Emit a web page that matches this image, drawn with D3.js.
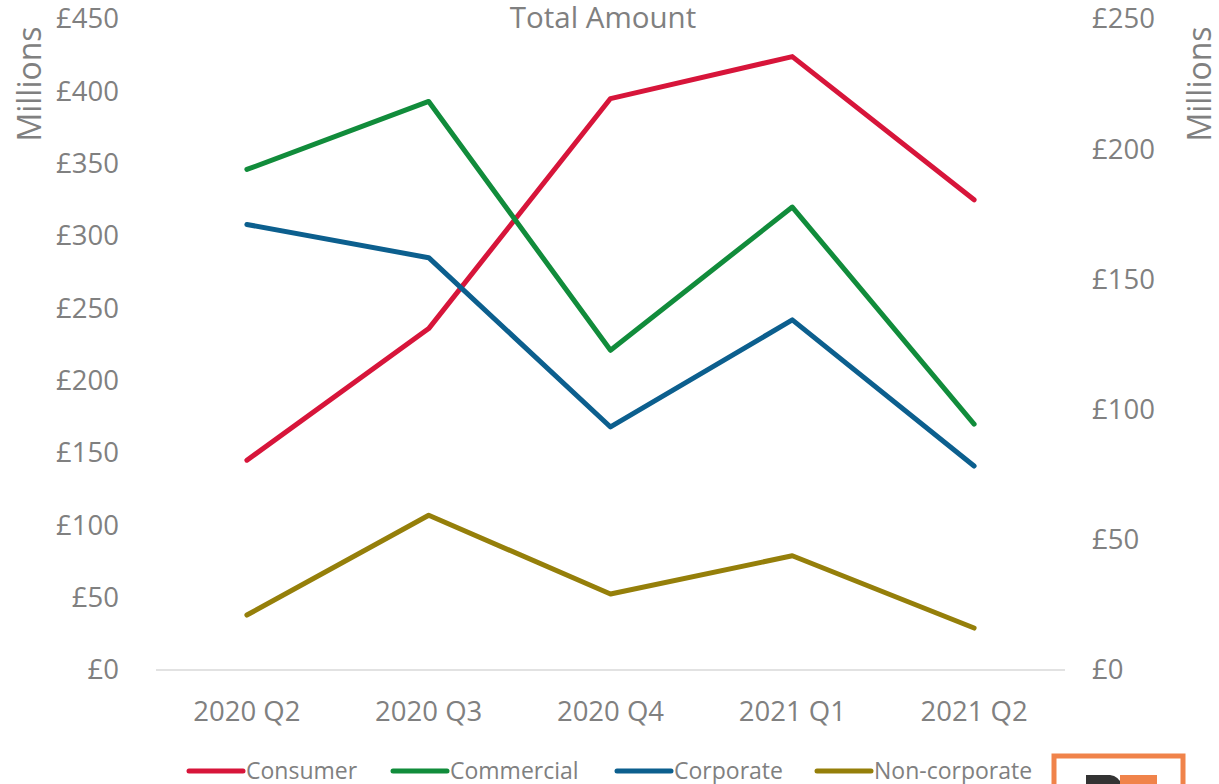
<!DOCTYPE html>
<meta charset="utf-8">
<title>Total Amount</title>
<style>
  body { margin: 0; background: #fff; }
  svg text { font-family: 'Open Sans', 'Noto Sans', sans-serif; fill: #808080; }
</style>
<body>
<div id="chart"></div>
<script src="https://d3js.org/d3.v7.min.js"></script>
<script>
// quarters on the x axis
const quarters = ["2020 Q2", "2020 Q3", "2020 Q4", "2021 Q1", "2021 Q2"];

// values in £ millions
const consumer     = [145, 236, 395, 424, 325];
const commercial   = [346, 393, 221, 320, 170];
const corporate    = [308, 285, 168, 242, 141];
const noncorporate = [38, 107, 52.5, 79, 29];

const seriesNames  = ["Consumer", "Commercial", "Corporate", "Non-corporate"];
const seriesColors = ["#d7153a", "#118c3b", "#0c5f8e", "#957f0a"];

const leftTicks  = [0, 50, 100, 150, 200, 250, 300, 350, 400, 450];
const rightTicks = [0, 50, 100, 150, 200, 250];

const W = 1219, H = 784;
const plot = {left: 156, right: 1065, top: 19, bottom: 670};

const svg = d3.select("#chart").append("svg")
  .attr("width", W).attr("height", H);

const x = d3.scaleBand().domain(quarters).range([plot.left, plot.right]);
const y = d3.scaleLinear().domain([0, 450]).range([plot.bottom, plot.top]);
const y2 = d3.scaleLinear().domain([0, 250]).range([plot.bottom, plot.top]);

// bottom axis line
svg.append("line")
  .attr("x1", plot.left).attr("x2", plot.right)
  .attr("y1", y(0)).attr("y2", y(0))
  .attr("stroke", "#d9d9d9").attr("stroke-width", 1.3);

// left axis
const gl = svg.append("g")
  .attr("transform", "translate(119,0)")
  .call(d3.axisLeft(y).tickValues(leftTicks).tickSize(0).tickPadding(0)
        .tickFormat(d => "£" + d));
gl.select(".domain").remove();
gl.attr("font-family", null).attr("font-size", null);
gl.selectAll("text").style("font-size", "27.5px");

// right axis
const gr = svg.append("g")
  .attr("transform", "translate(1092,0)")
  .call(d3.axisRight(y2).tickValues(rightTicks).tickSize(0).tickPadding(0)
        .tickFormat(d => "£" + d));
gr.select(".domain").remove();
gr.attr("font-family", null).attr("font-size", null);
gr.selectAll("text").style("font-size", "27.5px");

// x axis labels
const gx = svg.append("g")
  .attr("transform", "translate(0,701)")
  .call(d3.axisBottom(x).tickSize(0).tickPadding(0));
gx.select(".domain").remove();
gx.attr("font-family", null).attr("font-size", null);
gx.selectAll("text").style("font-size", "27.5px").attr("dy", "0.71em");

// axis titles
svg.append("text")
  .attr("transform", "translate(41,84) rotate(-90)")
  .attr("text-anchor", "middle")
  .style("font-size", "32px")
  .text("Millions");
svg.append("text")
  .attr("transform", "translate(1211,84) rotate(-90)")
  .attr("text-anchor", "middle")
  .style("font-size", "32px")
  .text("Millions");

// title
svg.append("text")
  .attr("x", 603).attr("y", 28)
  .attr("text-anchor", "middle")
  .style("font-size", "29.5px")
  .text("Total Amount");

// lines
const allSeries = [consumer, commercial, corporate, noncorporate];
const line = d3.line()
  .x((d, i) => x(quarters[i]) + x.bandwidth() / 2)
  .y(d => y(d));

allSeries.forEach((vals, k) => {
  svg.append("path")
    .datum(vals)
    .attr("d", line)
    .attr("fill", "none")
    .attr("stroke", seriesColors[k])
    .attr("stroke-width", 5)
    .attr("stroke-linecap", "round")
    .attr("stroke-linejoin", "round");
});

// legend
svg.append("clipPath").attr("id", "legclip")
  .append("rect").attr("x", 0).attr("y", 740).attr("width", 1035).attr("height", 44);

const legX = [189, 393, 617, 817];
const leg = svg.append("g").attr("clip-path", "url(#legclip)");
seriesNames.forEach((name, k) => {
  leg.append("line")
    .attr("x1", legX[k]).attr("x2", legX[k] + 54)
    .attr("y1", 771).attr("y2", 771)
    .attr("stroke", seriesColors[k]).attr("stroke-width", 5)
    .attr("stroke-linecap", "round");
  leg.append("text")
    .attr("x", legX[k] + 57).attr("y", 779)
    .style("font-size", "23px")
    .text(name);
});

// logo in the corner
const logo = svg.append("g");
logo.append("rect")
  .attr("x", 1054).attr("y", 756).attr("width", 129).attr("height", 60)
  .attr("fill", "none").attr("stroke", "#f0834a").attr("stroke-width", 5);
logo.append("path")
  .attr("d", "M1086,775 L1110,775 Q1122,777 1122,790 L1086,790 Z")
  .attr("fill", "#333");
logo.append("rect")
  .attr("x", 1120).attr("y", 775).attr("width", 37).attr("height", 15)
  .attr("fill", "#f0834a");
</script>
</body>
